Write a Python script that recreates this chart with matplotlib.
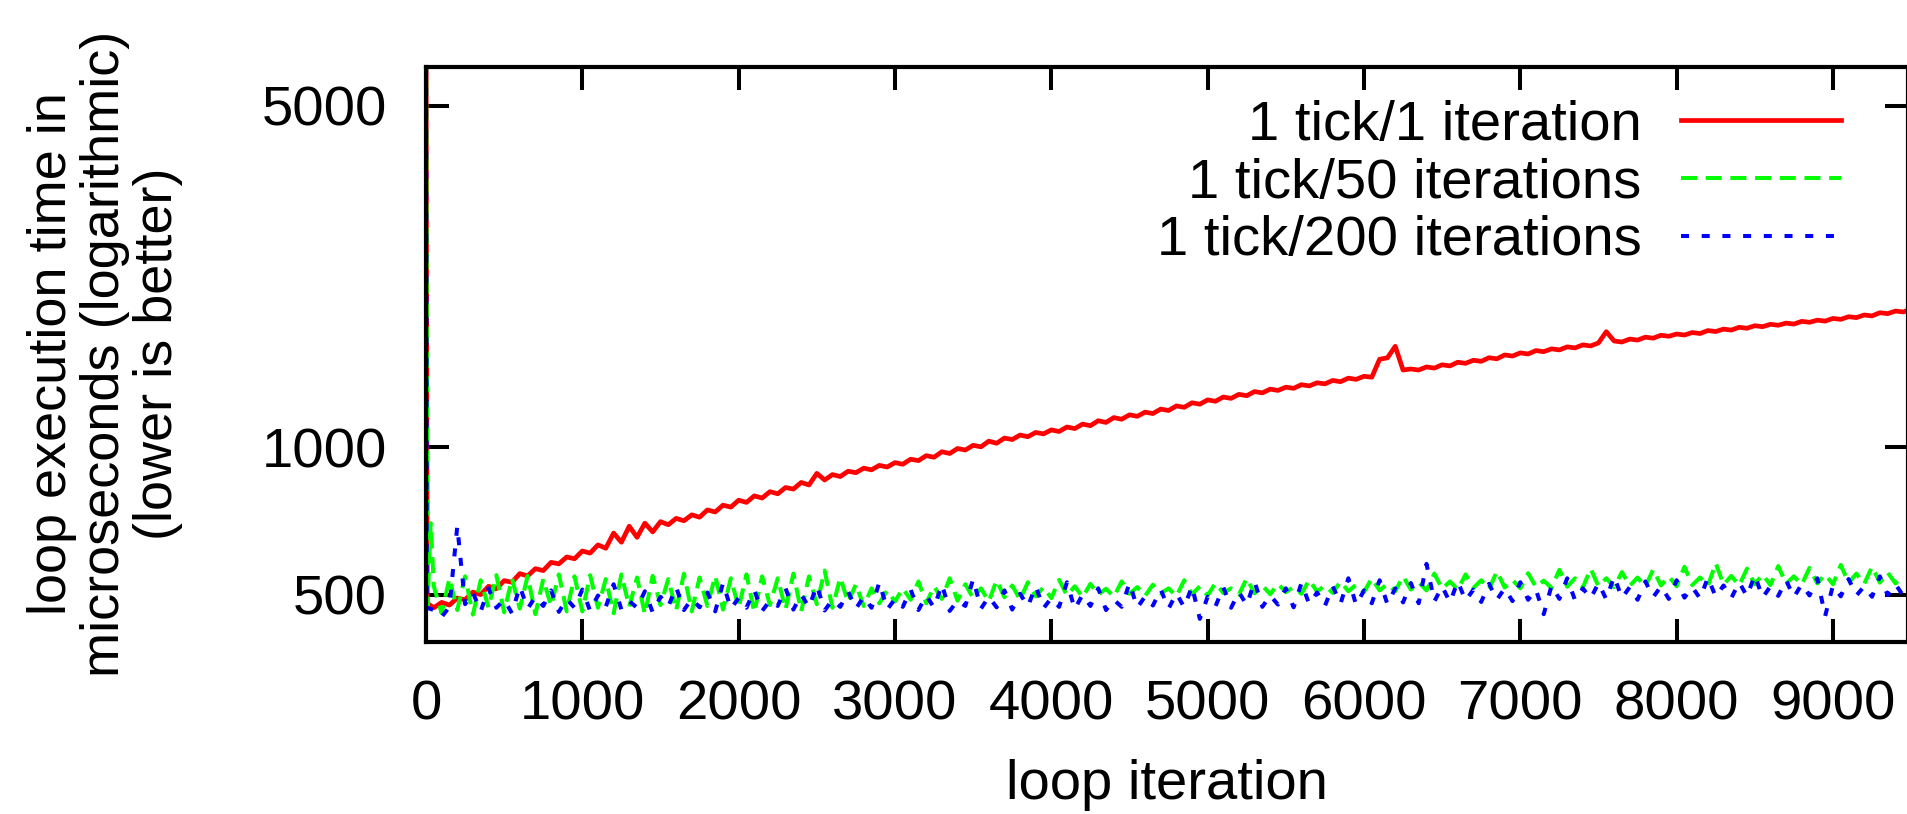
import numpy as np
import matplotlib
matplotlib.use("Agg")
import matplotlib.pyplot as plt
from matplotlib.ticker import FixedLocator, NullLocator, FixedFormatter

plt.rcParams['font.family'] = ['Liberation Sans', 'DejaVu Sans']

# ---------------- data ----------------
labels = ["1 tick/1 iteration", "1 tick/50 iterations", "1 tick/200 iterations"]

# first samples of each run (iterations, microseconds): start-up spike at iteration 0
red_start_iters = [0, 8]
red_start_values = [7000, 480]
green_start_iters = [0, 10, 30]
green_start_values = [8000, 475, 700]
blue_start_iters = [0, 5]
blue_start_values = [8000, 470]

step = 50  # sample spacing (loop iterations) of the values below, starting at iteration 50
red_values = [
    470, 482, 476, 492, 488, 506, 500, 520, 514, 534, 530, 552, 546, 565, 560, 582, 578, 597, 592, 614,
    608, 632, 622, 668, 640, 690, 655, 700, 672, 705, 695, 716, 708, 728, 720, 745, 738, 762, 755, 780,
    772, 796, 788, 812, 804, 828, 822, 848, 838, 885, 858, 880, 872, 894, 888, 907, 900, 919, 912, 931,
    924, 946, 940, 962, 955, 980, 972, 995, 988, 1010, 1003, 1030, 1020, 1045, 1038, 1060, 1052, 1073, 1066, 1086,
    1078, 1101, 1093, 1116, 1108, 1134, 1125, 1151, 1142, 1166, 1158, 1181, 1173, 1198, 1190, 1216, 1208, 1234, 1226, 1251,
    1243, 1268, 1260, 1284, 1276, 1301, 1293, 1316, 1308, 1328, 1321, 1344, 1336, 1356, 1349, 1371, 1363, 1386, 1378, 1398,
    1392, 1515, 1525, 1610, 1440, 1447, 1440, 1461, 1453, 1476, 1468, 1494, 1486, 1508, 1500, 1526, 1518, 1546, 1538, 1561,
    1553, 1578, 1570, 1591, 1583, 1606, 1598, 1621, 1613, 1636, 1725, 1651, 1643, 1666, 1658, 1681, 1673, 1696, 1688, 1706,
    1698, 1718, 1710, 1734, 1726, 1746, 1738, 1761, 1753, 1774, 1766, 1786, 1778, 1796, 1788, 1811, 1803, 1821, 1813, 1836,
    1828, 1851, 1843, 1866, 1858, 1886, 1878, 1901, 1893, 1918,
]
green_values = [
    520, 458, 540, 465, 545, 455, 535, 470, 548, 460, 540, 468, 546, 456, 538, 474, 550, 462, 545,
    462, 548, 470, 538, 458, 550, 472, 542, 456, 546, 476, 538, 464, 552, 462, 542, 474, 546, 466, 540,
    470, 550, 460, 545, 476, 540, 466, 552, 462, 545, 478, 560, 470, 542, 482, 525, 474, 515, 480, 510,
    484, 515, 488, 532, 480, 520, 490, 540, 486, 525, 492, 515, 484, 535, 494, 522, 488, 530, 496, 518,
    492, 536, 498, 520, 494, 526, 500, 514, 495, 532, 502, 518, 497, 524, 503, 515, 496, 535, 501, 520,
    498, 528, 504, 515, 500, 540, 503, 522, 501, 526, 506, 518, 502, 536, 507, 522, 504, 532, 508, 524,
    506, 540, 510, 526, 508, 545, 512, 530, 510, 552, 514, 532, 512, 550, 516, 535, 513, 558, 517, 536,
    515, 553, 518, 534, 516, 562, 519, 540, 517, 565, 520, 540, 518, 556, 521, 542, 519, 563, 522, 545,
    520, 570, 523, 542, 521, 580, 524, 546, 522, 565, 525, 550, 523, 572, 526, 545, 524, 567, 527, 550,
    525, 575, 528, 552, 526, 570, 529, 555, 527, 548,
]
blue_values = [
    465, 450, 472, 690, 478, 505, 462, 515, 470, 488, 458, 520, 468, 495, 474, 510, 461, 490, 470,
    512, 463, 498, 472, 525, 466, 485, 470, 508, 460, 495, 473, 518, 465, 490, 471, 505, 462, 528, 468,
    492, 470, 510, 463, 486, 474, 515, 466, 500, 471, 522, 464, 488, 472, 507, 468, 495, 470, 530, 466,
    490, 472, 512, 465, 498, 470, 525, 463, 486, 474, 538, 468, 495, 471, 510, 466, 502, 473, 520, 469,
    492, 472, 530, 467, 500, 474, 515, 465, 488, 472, 528, 470, 496, 475, 512, 468, 503, 471, 520, 446,
    495, 473, 518, 470, 506, 476, 532, 472, 498, 477, 515, 471, 528, 478, 505, 474, 520, 479, 540, 476,
    510, 480, 535, 478, 515, 482, 528, 480, 578, 484, 520, 482, 532, 486, 512, 483, 526, 488, 515, 485,
    530, 488, 512, 456, 522, 490, 540, 487, 515, 491, 528, 489, 545, 492, 518, 488, 532, 494, 520, 490,
    535, 493, 518, 491, 542, 495, 522, 492, 530, 496, 548, 493, 520, 497, 535, 494, 525, 498, 540, 452,
    522, 496, 538, 498, 520, 495, 545, 499, 525, 497,
]

x_ticks = [0, 1000, 2000, 3000, 4000, 5000, 6000, 7000, 8000, 9000]
x_tick_labels = [str(t) for t in x_ticks]
y_ticks = [500, 1000, 5000]
y_tick_labels = ["500", "1000", "5000"]


def series(start_iters, start_values, values):
    xs = list(start_iters) + [step * (i + 1) for i in range(len(values))]
    return xs, list(start_values) + list(values)


# ---------------- figure ----------------
W, H = 1907, 814
fig = plt.figure(figsize=(W / 100, H / 100), dpi=100)
ax = fig.add_axes([426 / W, 1 - 642 / H, (1908 - 426) / W, (642 - 67) / H])

FS = 40.5
LW = 2.9

xr, yr = series(red_start_iters, red_start_values, red_values)
xg, yg = series(green_start_iters, green_start_values, green_values)
xb, yb = series(blue_start_iters, blue_start_values, blue_values)

l1, = ax.plot(xr, yr, color='#ff0000', lw=3.4)
l2, = ax.plot(xg, yg, color='#00ff00', lw=LW, linestyle=(0, (3.97, 2.16)))
l3, = ax.plot(xb, yb, color='#0000ff', lw=LW, linestyle=(0, (1.99, 3.15)))

ax.set_yscale('log')
ax.set_xlim(0, 9480)
ax.set_ylim(400, 6000)

ax.xaxis.set_major_locator(FixedLocator(x_ticks))
ax.xaxis.set_major_formatter(FixedFormatter(x_tick_labels))
ax.yaxis.set_major_locator(FixedLocator(y_ticks))
ax.yaxis.set_major_formatter(FixedFormatter(y_tick_labels))
ax.yaxis.set_minor_locator(NullLocator())
ax.xaxis.set_minor_locator(NullLocator())

ax.tick_params(axis='both', which='major', direction='in', length=16.6, width=2.9,
               top=True, right=True, labelsize=FS, color='black')
ax.tick_params(axis='x', pad=27)
ax.tick_params(axis='y', pad=28)
for s in ax.spines.values():
    s.set_linewidth(3.0)
    s.set_color('black')

fig.text(105 / W, 1 - 354 / H,
         "loop execution time in\nmicroseconds (logarithmic)\n(lower is better)",
         rotation=90, ha='center', va='center', multialignment='center',
         fontsize=39, linespacing=1.08)
fig.text(1167 / W, 1 - 785 / H, "loop iteration", ha='center', va='center', fontsize=FS)

lw_line = 3.2
leg = ax.legend([l1, l2, l3], labels, loc='upper right',
                bbox_to_anchor=(1841 / W, 1 - 100 / H), bbox_transform=fig.transFigure,
                markerfirst=False, frameon=False, borderpad=0, borderaxespad=0,
                handlelength=2.85, handletextpad=0.7, labelspacing=0.1, fontsize=FS)
for t in leg.get_texts():
    t.set_ha('right')

fig.savefig("out.png", dpi=100, facecolor='white')
